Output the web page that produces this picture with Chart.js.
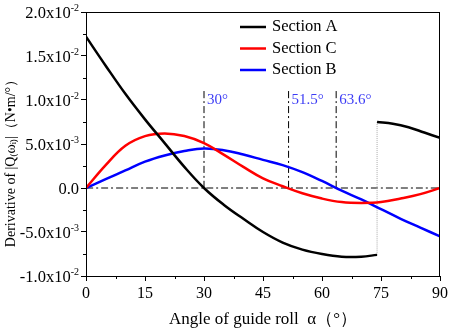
<!DOCTYPE html>
<html>
<head>
<meta charset="utf-8">
<script src="https://cdn.jsdelivr.net/npm/chart.js@4"></script>
<style>
  html, body { margin: 0; padding: 0; background: #fff; }
  #wrap { width: 451px; height: 334px; position: relative; }
</style>
</head>
<body>
<div id="wrap"><canvas id="derivChart"></canvas></div>
<script>
// angles (deg) and derivative values
const angles = [0, 5, 10, 15, 20, 25, 30, 35, 40, 45, 50, 55, 60, 65, 70, 75, 80, 85, 90];
const sectionC = [0, 0.0026, 0.0048, 0.0059, 0.0062, 0.0059, 0.0051, 0.0038, 0.0024, 0.0011, 0.0002,
    -0.0006, -0.0012, -0.0016, -0.0017, -0.0016, -0.0012, -0.0007, 0];
const sectionB = [0, 0.0010, 0.0020, 0.0030, 0.0037, 0.0042, 0.0045, 0.0043, 0.0038, 0.0032, 0.0026,
    0.0018, 0.0008, -0.0003, -0.0013, -0.0024, -0.0035, -0.0045, -0.0055];

// Section A has a jump at 74 deg, so it comes in two pieces
const anglesA1 = [0, 5, 10, 15, 20, 25, 30, 35, 40, 45, 50, 55, 60, 65, 70, 74];
const sectionA1 = [0.0172, 0.0139, 0.0107, 0.0078, 0.0051, 0.0024, 0, -0.0019, -0.0035, -0.0050,
    -0.0062, -0.0070, -0.0075, -0.0078, -0.0078, -0.0076];
const anglesA2 = [74, 78, 82, 86, 90];
const sectionA2 = [0.0075, 0.0073, 0.0069, 0.0063, 0.0057];

// marked zero crossings
const markAngles = [30, 51.5, 63.6];
const markLabels = ['30°', '51.5°', '63.6°'];
const markTop = 0.0111;

const yTicks = [-0.01, -0.005, 0, 0.005, 0.01, 0.015, 0.02];
const yTickBase = ['-1.0x10', '-5.0x10', '0.0', '5.0x10', '1.0x10', '1.5x10', '2.0x10'];
const yTickExp = ['-2', '-3', '', '-3', '-2', '-2', '-2'];
const xTicks = [0, 15, 30, 45, 60, 75, 90];

const serif = "'Liberation Serif', 'Times New Roman', serif";

function pts(xs, ys) {
    return xs.map(function (x, i) { return { x: x, y: ys[i] }; });
}

const datasets = [
    { label: 'Section A', data: pts(anglesA1, sectionA1), borderColor: '#000', borderWidth: 2.5 },
    { label: 'Section A', data: pts(anglesA2, sectionA2), borderColor: '#000', borderWidth: 2.5, noLegend: true },
    { label: 'Section C', data: pts(angles, sectionC), borderColor: '#f00', borderWidth: 2.5 },
    { label: 'Section B', data: pts(angles, sectionB), borderColor: '#00f', borderWidth: 2.5 },
    // dotted jump of section A
    { label: 'jump', data: [{ x: anglesA1[anglesA1.length - 1], y: sectionA1[sectionA1.length - 1] },
        { x: anglesA2[0], y: sectionA2[0] }],
      borderColor: '#aaa', borderWidth: 1, borderDash: [1, 1], noLegend: true },
    // zero line
    { label: 'zero', data: [{ x: angles[0], y: 0 }, { x: angles[angles.length - 1], y: 0 }],
      borderColor: '#000', borderWidth: 1, borderDash: [7, 3, 2, 3], noLegend: true }
];
markAngles.forEach(function (a) {
    datasets.push({ label: 'mark', data: [{ x: a, y: 0 }, { x: a, y: markTop }],
        borderColor: '#000', borderWidth: 1, borderDash: [7, 3, 2, 3], noLegend: true });
});
datasets.forEach(function (d) {
    d.pointRadius = 0;
    d.fill = false;
    d.tension = 0.4;
});

// box, minor ticks, y labels, legend and marker labels
const decorPlugin = {
    id: 'decor',
    afterDraw: function (chart) {
        const ctx = chart.ctx;
        const a = chart.chartArea;
        const xs = chart.scales.x, ys = chart.scales.y;
        ctx.save();
        ctx.strokeStyle = '#000';
        ctx.lineWidth = 1;
        ctx.strokeRect(a.left + 0.5, a.top + 0.5, a.right - a.left - 1, a.bottom - a.top);

        // minor ticks
        ctx.beginPath();
        for (let v = 7.5; v < 90; v += 15) {
            const px = Math.round(xs.getPixelForValue(v)) + 0.5;
            ctx.moveTo(px, a.bottom); ctx.lineTo(px, a.bottom + 3);
        }
        for (let v = -0.0075; v < 0.02; v += 0.005) {
            const py = Math.round(ys.getPixelForValue(v)) + 0.5;
            ctx.moveTo(a.left, py); ctx.lineTo(a.left - 3, py);
        }
        ctx.stroke();

        // y tick labels with small exponent
        ctx.fillStyle = '#000';
        ctx.textBaseline = 'alphabetic';
        yTicks.forEach(function (v, i) {
            const py = ys.getPixelForValue(v) + 5.5;
            const x = a.left - 7;
            ctx.font = '10px ' + serif;
            const ew = yTickExp[i] ? ctx.measureText(yTickExp[i]).width : 0;
            ctx.textAlign = 'right';
            if (yTickExp[i]) ctx.fillText(yTickExp[i], x, py - 7);
            ctx.font = '16.5px ' + serif;
            ctx.fillText(yTickBase[i], x - ew, py);
        });

        // y axis title
        ctx.save();
        ctx.translate(11, 160);
        ctx.rotate(-Math.PI / 2);
        ctx.textAlign = 'center';
        ctx.textBaseline = 'middle';
        ctx.font = '14px ' + serif;
        ctx.fillText('Derivative of |Q₍ωᵢ₎|（N•m/°）', 0, 0);
        ctx.restore();

        // marker labels
        ctx.textAlign = 'left';
        ctx.fillStyle = '#3c3cf5';
        ctx.font = '15px ' + serif;
        ctx.textBaseline = 'middle';
        markAngles.forEach(function (ang, i) {
            ctx.fillText(markLabels[i], xs.getPixelForValue(ang) + 3, ys.getPixelForValue(markTop) + 10);
        });

        // legend
        const legendItems = chart.data.datasets.filter(function (d) { return !d.noLegend; });
        ctx.font = '16.5px ' + serif;
        ctx.fillStyle = '#000';
        legendItems.forEach(function (d, i) {
            const y = 27 + i * 21.5;
            ctx.strokeStyle = d.borderColor;
            ctx.lineWidth = 2.5;
            ctx.beginPath();
            ctx.moveTo(240, y); ctx.lineTo(266, y);
            ctx.stroke();
            ctx.fillText(d.label, 272, y);
        });
        ctx.restore();
    }
};

new Chart(document.getElementById('derivChart').getContext('2d'), {
    type: 'line',
    data: { datasets: datasets },
    options: {
        responsive: true,
        maintainAspectRatio: false,
        animation: false,
        layout: { padding: { top: 12, right: 9, left: 0, bottom: 0 } },
        plugins: {
            legend: { display: false },
            tooltip: { enabled: false }
        },
        scales: {
            x: {
                type: 'linear',
                min: 0, max: 90,
                afterBuildTicks: function (s) { s.ticks = xTicks.map(function (v) { return { value: v }; }); },
                afterFit: function (s) { s.height = 58; },
                grid: { drawOnChartArea: false, color: '#000', tickLength: 5 },
                border: { color: '#000' },
                ticks: { color: '#000', font: { family: serif, size: 16 }, padding: 3, maxRotation: 0 },
                title: { display: true, text: 'Angle of guide roll  α（°）', color: '#000',
                    font: { family: serif, size: 17 }, padding: { top: 0 } }
            },
            y: {
                min: -0.01, max: 0.02,
                afterBuildTicks: function (s) { s.ticks = yTicks.map(function (v) { return { value: v }; }); },
                afterFit: function (s) { s.width = 86; },
                grid: { drawOnChartArea: false, color: '#000', tickLength: 5 },
                border: { color: '#000' },
                ticks: { display: false }
            }
        }
    },
    plugins: [decorPlugin]
});
</script>
</body>
</html>
